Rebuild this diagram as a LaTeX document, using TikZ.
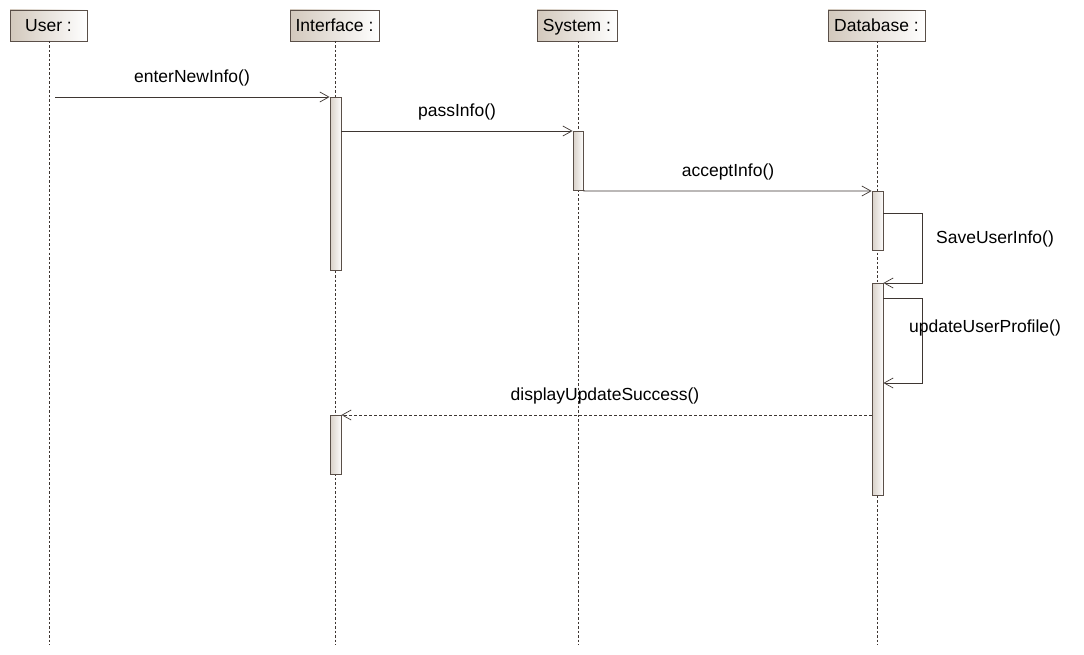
\documentclass[tikz,border=0pt]{standalone}
\usepackage{fontspec}
\setmainfont{Liberation Sans}
\usetikzlibrary{arrows.meta}
\definecolor{ln}{HTML}{3E3632}
\definecolor{bd}{HTML}{5A4F48}
\definecolor{hdl}{HTML}{D2C8BC}
\definecolor{barl}{HTML}{D8D0C8}
\tikzset{
  hdr/.style={draw=bd, line width=0.9pt, left color=hdl, right color=white, minimum height=31pt, inner sep=0pt, text height=13pt, text depth=0pt, font=\fontsize{17.5}{20}\selectfont},
  actbar/.style={draw=bd, line width=0.9pt, left color=barl, right color=white!92!barl},
  life/.style={draw=ln, line width=0.7pt, dash pattern=on 2.5pt off 2pt},
  msg/.style={draw=ln, line width=0.8pt, -{Straight Barb[length=9pt,width=10pt,line width=0.7pt]}},
  ret/.style={msg, dash pattern=on 3pt off 2pt},
  lbl/.style={font=\fontsize{17.5}{20}\selectfont, inner sep=0pt}
}
\begin{document}
\begin{tikzpicture}[x=1pt,y=-1pt]
\useasboundingbox (0,0) rectangle (1084,655);
% headers
\node[hdr, minimum width=77pt] (user) at (48.5,25.5) {User :};
\node[hdr, minimum width=89pt] (iface) at (334.5,25.5) {Interface :};
\node[hdr, minimum width=80pt] (sys) at (577,25.5) {System :};
\node[hdr, minimum width=97pt] (db) at (876.5,25.5) {Database :};
% lifeline ends
\coordinate (userE) at (49,645);
\coordinate (ifaceE) at (335,645);
\coordinate (sysE) at (578,645);
\coordinate (dbE) at (877,645);
\draw[life] (49,41) -- (userE);
\draw[life] (335,41) -- (ifaceE);
\draw[life] (578,41) -- (sysE);
\draw[life] (877,41) -- (dbE);
% activation bars
\node[actbar, minimum width=11pt, minimum height=173pt, inner sep=0pt, anchor=north] (a1) at (335.5,97) {};
\node[actbar, minimum width=11pt, minimum height=59pt, inner sep=0pt, anchor=north] (a2) at (335.5,415) {};
\node[actbar, minimum width=10pt, minimum height=59pt, inner sep=0pt, anchor=north] (s1) at (578,131) {};
\node[actbar, minimum width=11pt, minimum height=59pt, inner sep=0pt, anchor=north] (d1) at (877.5,191) {};
\node[actbar, minimum width=11pt, minimum height=212pt, inner sep=0pt, anchor=north] (d2) at (877.5,283) {};
% messages
\coordinate (u1) at (55,97);
\draw[msg] (u1) -- (a1.north west);
\node[lbl] (m1) at (192,78) {enterNewInfo()};
\draw[msg] (a1.east |- s1.north) -- (s1.north west);
\node[lbl] (m2) at (457,112) {passInfo()};
\draw[msg] (s1.south east) -- (d1.north west);
\node[lbl] (m3) at (728,172) {acceptInfo()};
\coordinate (c1) at (922,213);
\coordinate (c2) at (922,283);
\draw[msg] (d1.east |- c1) -- (c1) -- (c2) -- (d2.north east);
\node[lbl] (m4) at (995,239) {SaveUserInfo()};
\coordinate (c3) at (922,298);
\coordinate (c4) at (922,383);
\draw[msg] (d2.east |- c3) -- (c3) -- (c4) -- (d2.east |- c4);
\node[lbl] (m5) at (985,328) {updateUserProfile()};
\draw[ret] (d2.west |- a2.north) -- (a2.north east);
\node[lbl] (m6) at (605,396) {displayUpdateSuccess()};
\end{tikzpicture}
\end{document}
